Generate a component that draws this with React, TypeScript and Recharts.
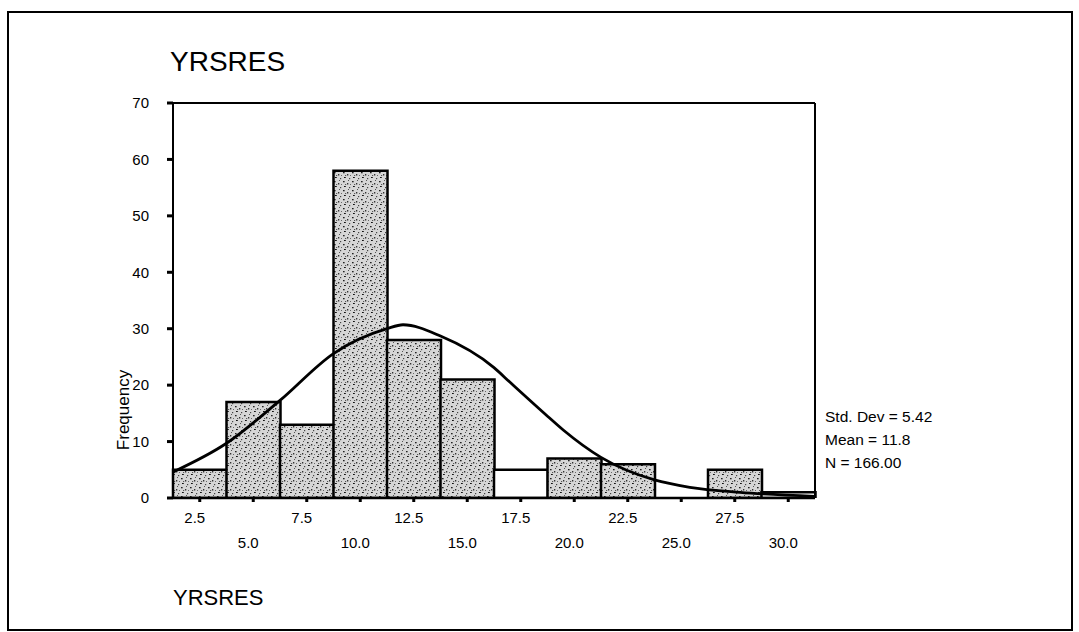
import React from "react";
import { ComposedChart, Bar, Line, XAxis, YAxis, Cell, ReferenceLine } from "recharts";

// histogram bins (midpoints) and frequencies
const bins = ["2.5", "5.0", "7.5", "10.0", "12.5", "15.0", "17.5", "20.0", "22.5", "25.0", "27.5", "30.0"];
const counts = [5, 17, 13, 58, 28, 21, 5, 7, 6, 0, 5, 1];
const yTicks = [0, 10, 20, 30, 40, 50, 60, 70];

// fitted normal curve
const curveX = [1.25, 3.75, 6.25, 8.75, 11.25, 12, 13.75, 16.25, 17, 18.75, 19.5, 21.25, 23.75, 25.4, 27.75, 31.25];
const curveY = [4.6, 9.7, 17.3, 25.6, 30, 30.7, 28.7, 23.1, 20.5, 14.5, 12, 7.2, 3.2, 1.9, 1.0, 0.3];

const stats = ["Std. Dev = 5.42", "Mean = 11.8", "N = 166.00"];

const plainBins = ["17.5", "30.0"];
const font = "'Liberation Sans', Arial, sans-serif";

const histData = bins.map((bin, i) => ({ bin, count: counts[i] }));
const curveData = curveX.map((x, i) => ({ x, y: curveY[i] }));

const BinTick = ({ x, y, payload }: any) => {
  const idx = bins.indexOf(payload.value);
  const lower = idx % 2 === 1;
  return (
    <text
      x={x - 5}
      y={y + (lower ? 44 : 19)}
      textAnchor="middle"
      fill="#000"
      fontSize={15}
      fontFamily={font}
    >
      {payload.value}
    </text>
  );
};

export default function App() {
  return (
    <div style={{ position: "absolute", left: 0, top: 0, width: 1079, height: 632, background: "#fff", fontFamily: font }}>
      <div
        style={{
          position: "absolute",
          left: 7,
          top: 11,
          width: 1066,
          height: 620,
          border: "2px solid #000",
          boxSizing: "border-box",
        }}
      />
      <div style={{ position: "absolute", left: 170, top: 46, fontSize: 28, lineHeight: "32px", color: "#000" }}>
        YRSRES
      </div>
      <div style={{ position: "absolute", left: 173, top: 586, fontSize: 22, lineHeight: "24px", color: "#000" }}>
        YRSRES
      </div>
      <div
        style={{
          position: "absolute",
          left: 124,
          top: 410,
          fontSize: 17,
          lineHeight: "20px",
          color: "#000",
          transform: "translate(-50%, -50%) rotate(-90deg)",
          whiteSpace: "nowrap",
        }}
      >
        Frequency
      </div>
      {stats.map((s, i) => (
        <div
          key={s}
          style={{ position: "absolute", left: 825, top: 407 + i * 23, fontSize: 15.5, lineHeight: "19px", color: "#000" }}
        >
          {s}
        </div>
      ))}

      <ComposedChart
        width={1079}
        height={632}
        data={histData}
        barCategoryGap={0}
        barGap={0}
        margin={{ top: 103, right: 264, bottom: 74, left: 113 }}
        style={{ position: "absolute", left: 0, top: 0 }}
      >
        <defs>
          <pattern id="stipple" width="9" height="9" patternUnits="userSpaceOnUse">
            <rect width="9" height="9" fill="#d6d6d6" />
            <rect x="1" y="1" width="1.6" height="1.3" fill="#222" />
            <rect x="5" y="3" width="1.3" height="1.5" fill="#333" />
            <rect x="2" y="6" width="1.8" height="1" fill="#111" />
            <rect x="7" y="7" width="1.2" height="1.2" fill="#444" />
            <rect x="6" y="0" width="1" height="1" fill="#555" />
            <rect x="3" y="4" width="1.2" height="1" fill="#555" />
            <rect x="8" y="4" width="1" height="1" fill="#666" />
          </pattern>
        </defs>
        <XAxis
          xAxisId="cat"
          dataKey="bin"
          interval={0}
          tickSize={4}
          tickMargin={2}
          height={60}
          axisLine={{ stroke: "#000", strokeWidth: 2.5 }}
          tickLine={{ stroke: "#000", strokeWidth: 3 }}
          tick={<BinTick />}
        />
        <XAxis xAxisId="num" type="number" dataKey="x" domain={[1.25, 31.25]} hide allowDataOverflow />
        <YAxis
          domain={[0, 70]}
          ticks={yTicks}
          interval={0}
          width={60}
          tickSize={6}
          tickMargin={18}
          allowDataOverflow
          axisLine={{ stroke: "#000", strokeWidth: 2 }}
          tickLine={{ stroke: "#000", strokeWidth: 3 }}
          tick={{ fill: "#000", fontSize: 15, fontFamily: font }}
        />
        <ReferenceLine xAxisId="cat" y={70} stroke="#000" strokeWidth={2} />
        <ReferenceLine xAxisId="num" x={31.25} stroke="#000" strokeWidth={2} ifOverflow="visible" />
        <Bar xAxisId="cat" dataKey="count" stroke="#000" strokeWidth={2.5} isAnimationActive={false}>
          {histData.map((d) => (
            <Cell key={d.bin} fill={plainBins.includes(d.bin) ? "#fff" : "url(#stipple)"} />
          ))}
        </Bar>
        <Line
          xAxisId="num"
          data={curveData}
          dataKey="y"
          type="monotone"
          stroke="#000"
          strokeWidth={2.8}
          dot={false}
          activeDot={false}
          isAnimationActive={false}
        />
      </ComposedChart>
    </div>
  );
}
